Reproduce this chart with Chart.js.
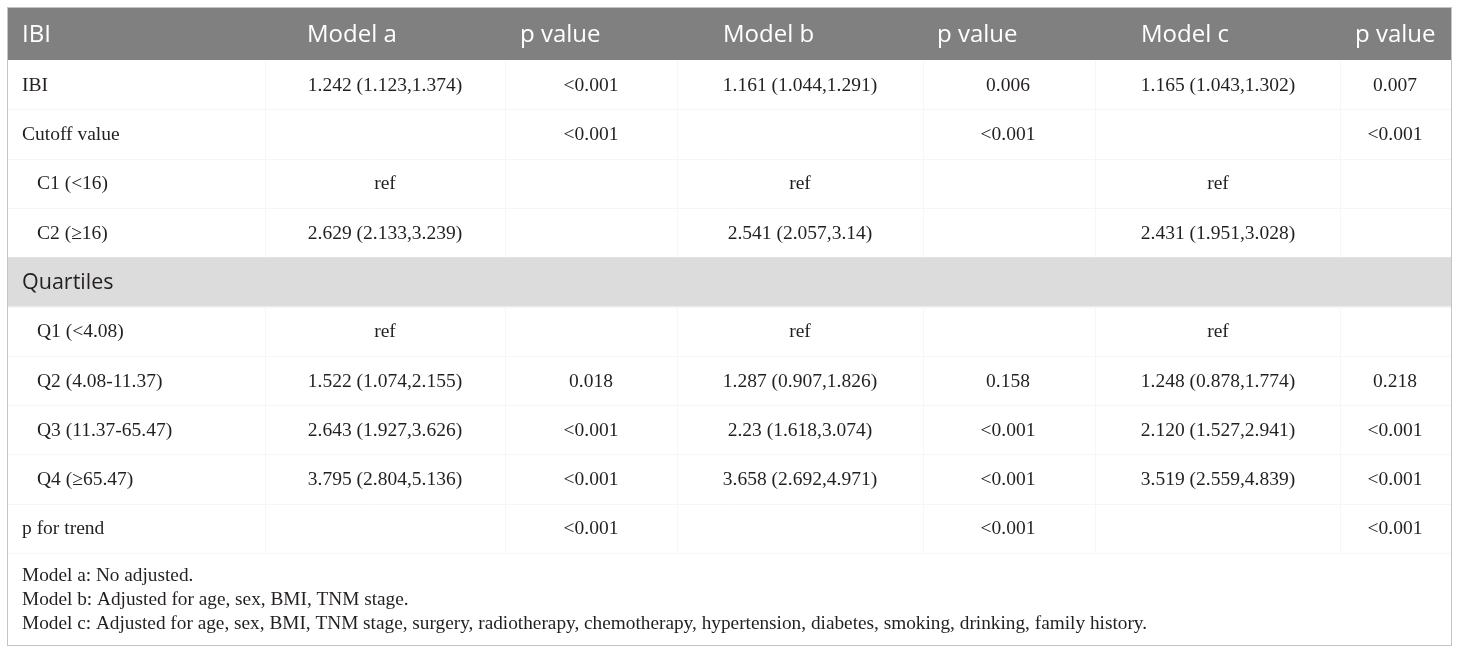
<!DOCTYPE html>
<html>
<head>
<meta charset="utf-8">
<script src="https://cdn.jsdelivr.net/npm/chart.js@4.4.1/dist/chart.umd.min.js"></script>
<style>
  html, body { margin: 0; padding: 0; background: #fff; }
  canvas { display: block; }
</style>
</head>
<body>
<canvas id="tbl" width="1460" height="653"></canvas>
<script>
(() => {
    // table content
    const headers = ["IBI", "Model a", "p value", "Model b", "p value", "Model c", "p value"];
    const rowLabels = ["IBI", "Cutoff value", "C1 (<16)", "C2 (≥16)", "Quartiles", "Q1 (<4.08)",
        "Q2 (4.08-11.37)", "Q3 (11.37-65.47)", "Q4 (≥65.47)", "p for trend"];
    const modelA = ["1.242 (1.123,1.374)", "", "ref", "2.629 (2.133,3.239)", "", "ref",
        "1.522 (1.074,2.155)", "2.643 (1.927,3.626)", "3.795 (2.804,5.136)", ""];
    const pA = ["<0.001", "<0.001", "", "", "", "", "0.018", "<0.001", "<0.001", "<0.001"];
    const modelB = ["1.161 (1.044,1.291)", "", "ref", "2.541 (2.057,3.14)", "", "ref",
        "1.287 (0.907,1.826)", "2.23 (1.618,3.074)", "3.658 (2.692,4.971)", ""];
    const pB = ["0.006", "<0.001", "", "", "", "", "0.158", "<0.001", "<0.001", "<0.001"];
    const modelC = ["1.165 (1.043,1.302)", "", "ref", "2.431 (1.951,3.028)", "", "ref",
        "1.248 (0.878,1.774)", "2.120 (1.527,2.941)", "3.519 (2.559,4.839)", ""];
    const pC = ["0.007", "<0.001", "", "", "", "", "0.218", "<0.001", "<0.001", "<0.001"];
    const footnotes = [
        "Model a: No adjusted.",
        "Model b: Adjusted for age, sex, BMI, TNM stage.",
        "Model c: Adjusted for age, sex, BMI, TNM stage, surgery, radiotherapy, chemotherapy, hypertension, diabetes, smoking, drinking, family history."
    ];

    // layout (pixels on the x scale)
    const indented = [false, false, true, true, false, true, true, true, true, false];
    const sectionRows = ["Quartiles"];
    const colEdges = [8, 265, 505, 677, 923, 1095, 1340, 1451];
    const headerX = [22, 307, 520, 723, 937, 1141, 1355];
    const cellX = [22, 385, 591, 800, 1008, 1218, 1395];
    const headerTop = 8;
    const bodyFont = "19.5px 'Liberation Serif', 'DejaVu Serif', serif";
    const headFont = "24px 'Open Sans', 'Noto Sans', sans-serif";
    const sectionFont = "21.5px 'Open Sans', 'Noto Sans', sans-serif";
    const noteFont = "19.3px 'Liberation Serif', 'DejaVu Serif', serif";
    const ink = "#231f20";

    const columns = [rowLabels, modelA, pA, modelB, pB, modelC, pC];

    const datasets = columns.map((values, col) => ({
        label: headers[col],
        data: values
            .map((text, row) => ({
                x: col === 0 ? cellX[0] + (indented[row] ? 15 : 0) : cellX[col],
                y: rowLabels[row],
                text
            }))
            .filter((p) => p.text !== ""),
        pointRadius: 0,
        pointHoverRadius: 0,
        align: col === 0 ? "left" : "center"
    }));

    const tablePlugin = {
        id: "tableCells",
        beforeDatasetsDraw(chart) {
            const { ctx, chartArea, scales } = chart;
            const y = scales.y;
            const band = (chartArea.bottom - chartArea.top) / rowLabels.length;
            const left = colEdges[0];
            const right = colEdges[colEdges.length - 1];
            ctx.save();
            ctx.fillStyle = "#fff";
            ctx.fillRect(0, 0, chart.width, chart.height);

            // header band
            ctx.fillStyle = "#808080";
            ctx.fillRect(left, headerTop, right - left, chartArea.top - headerTop);

            // faint cell rules
            ctx.strokeStyle = "#f6f6f6";
            ctx.lineWidth = 1;
            for (let i = 1; i <= rowLabels.length; i++) {
                const yy = Math.round(chartArea.top + i * band) + 0.5;
                ctx.beginPath();
                ctx.moveTo(left, yy);
                ctx.lineTo(right, yy);
                ctx.stroke();
            }
            colEdges.slice(1, -1).forEach((xv) => {
                const xx = Math.round(scales.x.getPixelForValue(xv)) + 0.5;
                ctx.beginPath();
                ctx.moveTo(xx, chartArea.top);
                ctx.lineTo(xx, chartArea.bottom);
                ctx.stroke();
            });

            // section rows
            ctx.fillStyle = "#dcdcdc";
            sectionRows.forEach((label) => {
                const cy = y.getPixelForValue(rowLabels.indexOf(label));
                ctx.fillRect(left, cy - band / 2, right - left, band);
            });

            // outer frame
            ctx.strokeStyle = "#c4c4c4";
            ctx.strokeRect(left - 0.5, headerTop - 0.5, right - left + 1, 645 - headerTop + 1);
            ctx.restore();
        },
        afterDatasetsDraw(chart) {
            const { ctx, chartArea, scales } = chart;
            ctx.save();

            // header texts
            ctx.font = headFont;
            ctx.fillStyle = "#fff";
            ctx.textBaseline = "middle";
            ctx.textAlign = "left";
            const hy = (headerTop + chartArea.top) / 2 + 1;
            headers.forEach((h, i) => {
                ctx.fillText(h, scales.x.getPixelForValue(headerX[i]), hy);
            });

            // body cells
            ctx.fillStyle = ink;
            chart.data.datasets.forEach((ds, di) => {
                const meta = chart.getDatasetMeta(di);
                ctx.textAlign = ds.align;
                meta.data.forEach((el, i) => {
                    const label = ds.data[i].text;
                    const isSection = di === 0 && sectionRows.includes(label);
                    ctx.font = isSection ? sectionFont : bodyFont;
                    ctx.fillText(label, el.x, el.y + 1);
                });
            });

            // footnotes
            ctx.font = noteFont;
            ctx.textAlign = "left";
            ctx.textBaseline = "alphabetic";
            footnotes.forEach((line, i) => {
                ctx.fillText(line, scales.x.getPixelForValue(22), 580.5 + i * 24.3);
            });
            ctx.restore();
        }
    };

    new Chart(document.getElementById("tbl"), {
        type: "scatter",
        data: { datasets },
        options: {
            responsive: false,
            devicePixelRatio: 1,
            animation: false,
            events: [],
            layout: { padding: { top: 60, bottom: 100, left: 0, right: 0 } },
            scales: {
                x: { type: "linear", min: 0, max: 1460, display: false },
                y: { type: "category", labels: rowLabels, offset: true, display: false }
            },
            plugins: {
                legend: { display: false },
                tooltip: { enabled: false }
            }
        },
        plugins: [tablePlugin]
    });
})();
</script>
</body>
</html>
